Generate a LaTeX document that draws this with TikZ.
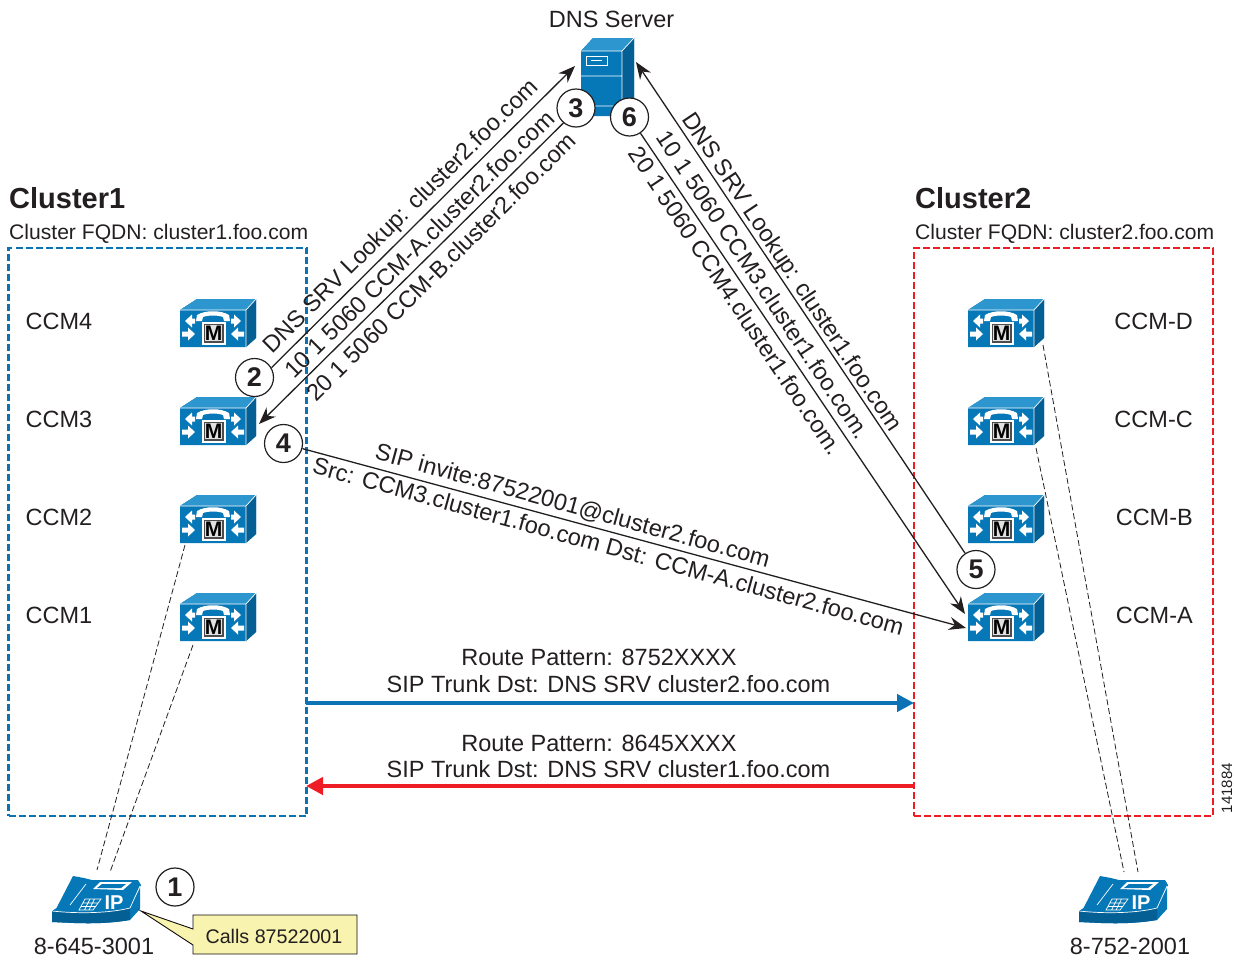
\documentclass[tikz,border=0pt]{standalone}
\usepackage{fontspec}
\setmainfont{Liberation Sans}
\usetikzlibrary{arrows.meta}
\definecolor{ciscoblue}{HTML}{0678B8}
\definecolor{ciscodark}{HTML}{045F94}
\definecolor{ciscolight}{HTML}{2E96CE}
\definecolor{bluedash}{HTML}{0A72B5}
\definecolor{reddash}{HTML}{EE1C25}
\definecolor{inkc}{HTML}{231F20}
\definecolor{noteyellow}{HTML}{F8F3AE}
\tikzset{
  x=1pt,y=-1pt,
  txt/.style={font=\fontsize{23.5}{26}\selectfont,text=inkc,inner sep=0pt},
  fqdn/.style={font=\fontsize{21.1}{24}\selectfont,text=inkc,inner sep=0pt,anchor=base west},
  lbl/.style={font=\fontsize{23.6}{26}\selectfont,text=inkc,inner sep=0pt,anchor=center},
  head/.style={font=\fontsize{29}{30}\selectfont\bfseries,text=inkc,inner sep=0pt,anchor=base west},
  stepcirc/.style={circle,draw=inkc,line width=1.2pt,fill=white,minimum size=38pt,inner sep=0pt,font=\fontsize{27}{30}\selectfont\bfseries,text=inkc},
  conn/.style={draw=inkc,line width=1.3pt,-{Stealth[length=17pt,width=13pt]}},
  thinDash/.style={draw=inkc,line width=0.8pt,dash pattern=on 6pt off 3pt},
  framebox/.style={line width=2.4pt,dash pattern=on 7pt off 3pt,minimum height=568pt,inner sep=0pt},
  bigarrow/.style={line width=4.4pt,-{Stealth[length=17pt,width=17pt,inset=0pt]}},
}
\newcommand{\ccmicon}[2]{%
\begin{scope}[shift={(#1,#2)}]
  \fill[ciscoblue] (180,310)--(197,299)--(256,299)--(256,338)--(246,347)--(180,347)--cycle;
  \fill[ciscolight] (180,310)--(197,299)--(256,299)--(246,310)--cycle;
  \fill[ciscodark] (246,310)--(256,299)--(256,338)--(246,347)--cycle;
  \draw[white,line width=0.7pt] (180,310)--(246,310)--(256,299) (246,310)--(246,347);
  \fill[white] (196,321)--(197,315)..controls (205,310) and (221,310)..(229,315)--(230,321)--(224,321)--(223,317)..controls (218,315) and (208,315)..(203,317)--(202,321)--cycle;
  \fill[white] (185,321)--(192,314.5)--(192,318.5)--(195,318.5)--(195,323.5)--(192,323.5)--(192,327.5)--cycle;
  \fill[white] (241,321)--(234,314.5)--(234,318.5)--(231,318.5)--(231,323.5)--(234,323.5)--(234,327.5)--cycle;
  \fill[white] (195,334)--(188,327.5)--(188,331.5)--(182,331.5)--(182,336.5)--(188,336.5)--(188,340.5)--cycle;
  \fill[white] (231,334)--(238,327.5)--(238,331.5)--(244,331.5)--(244,336.5)--(238,336.5)--(238,340.5)--cycle;
  \draw[white,fill=white,line width=0.6pt] (202,322) rectangle (225,344);
  \fill[black!70] (203.5,323.5) rectangle (223.5,342.5);
  \fill[black!12] (205,325) rectangle (222,341);
  \node[inner sep=0pt,font=\fontsize{21}{22}\selectfont\bfseries,text=black] at (213.5,333.5) {M};
\end{scope}}
\newcommand{\phoneicon}[1]{%
\begin{scope}[shift={(#1,0)}]
  \fill[ciscoblue] (52,911)--(58,907)--(130,907)--(140,888)--(140,909)--(130,920)..controls (100,925) and (75,923)..(52,922)--cycle;
  \fill[ciscoblue] (56,909)--(73,876)--(84,878)--(92,880)--(138,880)--(141,885)--(130,908)--cycle;
  \fill[ciscodark] (52,911)..controls (80,914) and (110,913)..(130,908)--(130,920)..controls (100,925) and (75,923)..(52,922)--cycle;
  \draw[white,line width=0.7pt] (52,911)..controls (80,914) and (110,913)..(130,908)--(140,886);
  \draw[white,line width=0.7pt] (70,905)--(86,884);
  \fill[white] (93,889)--(100,882)--(132,882)--(123,890)--cycle;
  \fill[ciscoblue] (97,888)--(102,884)--(126,884)--(121,888)--cycle;
  \draw[white,line width=0.7pt] (79,910)--(85,899)--(101,899)--(93,910)--cycle
     (81,906.5)--(96,906.5) (83,903)--(98,903) (84.5,910)--(90,899) (89,910)--(94.5,899);
  \node[inner sep=0pt,font=\fontsize{20}{20}\selectfont\bfseries,text=white] at (114,903) {IP};
\end{scope}}
\begin{document}
\begin{tikzpicture}[x=1pt,y=-1pt]
\useasboundingbox (0,0) rectangle (1234,959);
% cluster frames
\node[framebox,draw=bluedash,minimum width=298pt] (clusterA) at (157.5,532) {};
\node[framebox,draw=reddash,minimum width=299pt] (clusterB) at (1063.5,532) {};
\node[head] (cA) at (9,208) {Cluster1};
\node[head] (cB) at (915,208) {Cluster2};
\node[fqdn] (fA) at (9,239) {Cluster FQDN: cluster1.foo.com};
\node[fqdn] (fB) at (915,239) {Cluster FQDN: cluster2.foo.com};
% icons
\ccmicon{0}{0}\ccmicon{0}{98}\ccmicon{0}{196}\ccmicon{0}{294}
\ccmicon{788}{0}\ccmicon{788}{98}\ccmicon{788}{196}\ccmicon{788}{294}
\phoneicon{0}\phoneicon{1027}
% server
\fill[ciscoblue] (581,51)--(593,38)--(634,38)--(634,105)--(622,116)--(581,116)--cycle;
\fill[ciscolight] (581,51)--(593,38)--(634,38)--(622,51)--cycle;
\fill[ciscodark] (622,51)--(634,38)--(634,105)--(622,116)--cycle;
\draw[white,line width=0.7pt] (581,51)--(622,51)--(634,38) (622,51)--(622,116) (581,76)--(622,76) (581,106)--(622,106);
\draw[white,line width=0.8pt] (586,56) rectangle (607,65);
\draw[white,line width=1pt] (591,60.5)--(602,60.5);
\node[txt] (dnsname) at (611.5,19) {DNS Server};
% anchors
\coordinate (dnsL) at (575,66);
\coordinate (dnsR) at (636,62);
\coordinate (ccm3R) at (259,424);
\coordinate (ccmAa) at (965,614);
\coordinate (ccmAb) at (966,628);
\coordinate (d1a) at (185,545); \coordinate (d1b) at (97,870);
\coordinate (d2a) at (193,645); \coordinate (d2b) at (110,872);
\coordinate (d3a) at (1043,345); \coordinate (d3b) at (1138,872);
\coordinate (d4a) at (1036,448); \coordinate (d4b) at (1124,872);
\coordinate (arrowAa) at (306,703); \coordinate (arrowAb) at (914,703);
\coordinate (arrowBa) at (914,786); \coordinate (arrowBb) at (306,786);
% steps
\node[stepcirc] (s2) at (254.5,377.5) {2};
\node[stepcirc] (s3) at (576,108) {3};
\node[stepcirc] (s4) at (283.5,443.5) {4};
\node[stepcirc] (s5) at (976,569.5) {5};
\node[stepcirc] (s6) at (629.5,117) {6};
\node[stepcirc] (s1) at (175,887) {1};
% connectors
\draw[conn] (s2.30) -- (dnsL);
\draw[conn] (s3.230) -- (ccm3R);
\draw[conn] (s5) -- (dnsR);
\draw[conn] (s6.-56) -- (ccmAa);
\draw[conn] (s4) -- (ccmAb);
\draw[thinDash] (d1a)--(d1b);
\draw[thinDash] (d2a)--(d2b);
\draw[thinDash] (d3a)--(d3b);
\draw[thinDash] (d4a)--(d4b);
\draw[bigarrow,draw=bluedash,fill=bluedash] (arrowAa)--(arrowAb);
\draw[bigarrow,draw=reddash,fill=reddash] (arrowBa)--(arrowBb);
% CCM labels
\node[txt,anchor=base west] (l4) at (25.5,329) {CCM4};
\node[txt,anchor=base west] (l3) at (25.5,427) {CCM3};
\node[txt,anchor=base west] (l2) at (25.5,525) {CCM2};
\node[txt,anchor=base west] (l1) at (25.5,623) {CCM1};
\node[txt,anchor=base east] (lD) at (1193,329) {CCM-D};
\node[txt,anchor=base east] (lC) at (1193,427) {CCM-C};
\node[txt,anchor=base east] (lB) at (1193,525) {CCM-B};
\node[txt,anchor=base east] (lA) at (1193,623) {CCM-A};
% rotated labels
\node[lbl,rotate=44.8] (t1) at (401.5,217) {DNS SRV Lookup: cluster2.foo.com};
\node[lbl,rotate=44.8] (t2) at (419.5,244) {10 1 5060 CCM-A.cluster2.foo.com};
\node[lbl,rotate=44.8] (t3) at (441,266.5) {20 1 5060 CCM-B.cluster2.foo.com};
\node[lbl,rotate=-56.3] (t4) at (791,272.5) {DNS SRV Lookup: cluster1.foo.com};
\node[lbl,rotate=-56.3] (t5) at (763.5,285) {10 1 5060 CCM3.cluster1.foo.com.};
\node[lbl,rotate=-56.3] (t6) at (736,301) {20 1 5060 CCM4.cluster1.foo.com.};
\node[lbl,rotate=-15.4] (t7) at (572.5,506.5) {SIP invite:87522001@cluster2.foo.com};
\node[lbl,rotate=-15.4] (t8) at (608.5,546) {Src: CCM3.cluster1.foo.com Dst: CCM-A.cluster2.foo.com};
% trunk labels
\node[txt] (r1) at (599,657) {Route Pattern: 8752XXXX};
\node[txt] (r2) at (608.5,684) {SIP Trunk Dst: DNS SRV cluster2.foo.com};
\node[txt] (r3) at (599,743) {Route Pattern: 8645XXXX};
\node[txt] (r4) at (608.5,769) {SIP Trunk Dst: DNS SRV cluster1.foo.com};
% phones numbers
\node[txt] (n1) at (94,946) {8-645-3001};
\node[txt] (n2) at (1130,946) {8-752-2001};
\node[font=\fontsize{15}{16}\selectfont,text=inkc,inner sep=0pt,rotate=90] (tag) at (1227,788) {141884};
% callout
\draw[draw=black!60!inkc,fill=noteyellow,line width=0.9pt] (193,915)--(357,915)--(357,954)--(193,954)--(193,945)--(141,911)--(193,929)--cycle;
\node[font=\fontsize{19.7}{20}\selectfont,text=inkc,inner sep=0pt] (note) at (274,936) {Calls 87522001};
\end{tikzpicture}
\end{document}
